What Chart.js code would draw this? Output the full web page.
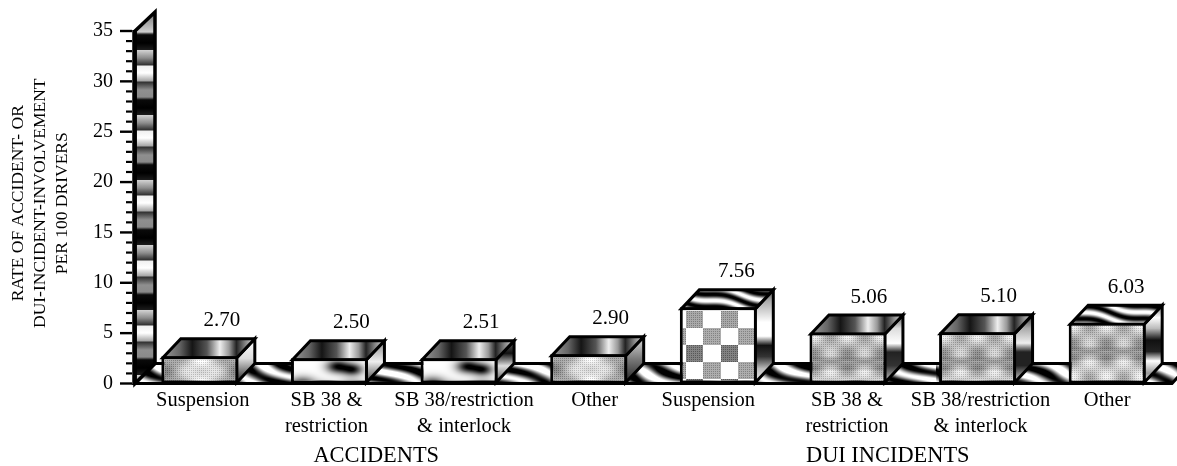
<!DOCTYPE html>
<html><head><meta charset="utf-8">
<style>html,body{margin:0;padding:0;background:#fff}canvas{display:block}</style>
<script src="https://cdn.jsdelivr.net/npm/chart.js@4"></script>
</head><body>
<canvas id="c" width="1177" height="466"></canvas>
<script>
const categories = [
  ['Suspension'], ['SB 38 &', 'restriction'], ['SB 38/restriction', '& interlock'], ['Other'],
  ['Suspension'], ['SB 38 &', 'restriction'], ['SB 38/restriction', '& interlock'], ['Other']
];
const rates = [2.70, 2.50, 2.51, 2.90, 7.56, 5.06, 5.10, 6.03];
const valueLabels = ['2.70', '2.50', '2.51', '2.90', '7.56', '5.06', '5.10', '6.03'];
const groupLabels = ['ACCIDENTS', 'DUI INCIDENTS'];
const axisTitle = ['RATE OF ACCIDENT- OR', 'DUI-INCIDENT-INVOLVEMENT', 'PER 100 DRIVERS'];

const SERIF = '"Liberation Serif","Times New Roman",serif';
const DX = 18, DY = 19;
const labelShift = [3, -3, 5, 6, -10, -1, 3, 0];
const valueShift = [22, 22, 22, 22, 18, 21, 21, 19];
const frontKinds = ['soft', 'blotch', 'blotch', 'soft', 'check', 'grid', 'grid', 'grid'];
const topKinds = ['band', 'band', 'band', 'band', 'marble', 'band', 'band', 'marble'];
const sideStops = [
  [[0,'#fff'],[.45,'#ddd'],[.8,'#666'],[1,'#222']],
  [[0,'#888'],[.5,'#eee'],[1,'#444']],
  [[0,'#666'],[.3,'#111'],[.6,'#ddd'],[1,'#555']],
  [[0,'#ddd'],[.5,'#777'],[1,'#222']],
  [[0,'#555'],[.12,'#aaa'],[.35,'#fff'],[.5,'#fff'],[.6,'#111'],[.72,'#333'],[.85,'#bbb'],[1,'#eee']],
  [[0,'#555'],[.2,'#ddd'],[.42,'#fff'],[.55,'#222'],[.75,'#333'],[1,'#ccc']],
  [[0,'#333'],[.2,'#aaa'],[.42,'#eee'],[.55,'#222'],[.75,'#222'],[1,'#ddd']],
  [[0,'#777'],[.16,'#fff'],[.3,'#bbb'],[.45,'#111'],[.6,'#222'],[.72,'#fff'],[.88,'#999'],[1,'#eee']]
];

function makeTile(w, h, fn) {
  const c = document.createElement('canvas');
  c.width = w; c.height = h;
  const x = c.getContext('2d'), img = x.createImageData(w, h);
  for (let j = 0; j < h; j++) for (let i = 0; i < w; i++) {
    const v = Math.max(0, Math.min(1, fn(i, j))) * 255, k = (j * w + i) * 4;
    img.data[k] = img.data[k + 1] = img.data[k + 2] = v; img.data[k + 3] = 255;
  }
  x.putImageData(img, 0, 0);
  return c;
}
function stipple(v, x, y) {
  const on = (x + y) % 2 === 0 && y % 2 === 0;
  return v * .82 + (on ? 0 : .18) * (v > .97 ? 1 : .95);
}
const TAU = Math.PI * 2;
const spot = (x, y, a, b, r) => Math.exp(-((x - a) * (x - a) + 3 * (y - b) * (y - b)) / (r * r));
const fronts = {
  soft: (x, y) => stipple(.74 + .2 * Math.cos(TAU * (x - 38) / 76) - .1 * Math.cos(TAU * (x - 20) / 36) * Math.cos(TAU * y / 26), x, y),
  blotch: (x, y) => 1 - .95 * spot(x, y, 45, 6, 11) - .9 * spot(x, y, 60, 9, 10) - .8 * spot(x, y, 10, 24, 13) - .45 * spot(x, y, 60, 26, 13) - .3 * spot(x, y, 32, 26, 10),
  check: (x, y) => {
    const col = Math.floor((x + 13) / 17.5), row = Math.floor((y - 2) / 17);
    if ((col + row) % 2 === 0 || row < 0) return 1;
    const g = (row % 4 === 2 || row % 4 === 0) ? .42 : .62;
    return stipple(row === 0 ? .6 : g, x, y);
  },
  grid: (x, y) => {
    const a = Math.cos(TAU * (x - 19) / 34), b = Math.cos(TAU * (y - 19) / 34);
    return stipple(.74 + .17 * a * b * (y > 26 ? -1 : 1) + .07 * Math.cos(TAU * (y + 4) / 50) - (y > 22 && y < 36 ? .12 : 0), x, y);
  }
};
const marble = (x, y) => {
  const p = x - 2.75 * y + 8 * Math.sin(TAU * (x * .6 + y) / 70);
  return .52 + .6 * Math.sin(TAU * p / 52) + .12 * Math.sin(TAU * (p * .4 + y) / 19);
};
const roofMarble = (x, y) => {
  const p = x - 5 * y + 10 * Math.sin(TAU * x / 60);
  return .5 + .55 * Math.sin(TAU * p / 62);
};

const ctxMain = document.getElementById('c').getContext('2d');
const frontPatterns = frontKinds.map(k => ctxMain.createPattern(makeTile(82, 90, fronts[k]), 'repeat'));
const marblePattern = ctxMain.createPattern(makeTile(312, 312, marble), 'repeat');
const roofPattern = ctxMain.createPattern(makeTile(310, 310, roofMarble), 'repeat');

function poly(c, pts) {
  c.beginPath();
  pts.forEach((p, i) => i ? c.lineTo(p[0], p[1]) : c.moveTo(p[0], p[1]));
  c.closePath();
}
function wallGradient(c, top, bottom) {
  const g = c.createLinearGradient(0, top, 0, bottom);
  const L = bottom - top, P = 65, start = 35 - top;
  const add = (y, col) => { if (y >= 0 && y <= L) g.addColorStop(y / L, col); };
  add(0, '#777'); add(start - 3, '#cfcfcf'); add(start - 1, '#333');
  for (let y = start; y < L; y += P) {
    add(y + .01, '#0a0a0a'); add(y + 8, '#000'); add(y + 15, '#1c1c1c');
    add(y + 15.5, '#cfcfcf'); add(y + 23, '#8c8c8c'); add(y + 30, '#303030');
    add(y + 31, '#f0f0f0'); add(y + 38, '#fff'); add(y + 46, '#a5a5a5');
    add(y + 47, '#303030'); add(y + 55, '#8f8f8f'); add(y + 62, '#8a8a8a'); add(y + 64.5, '#1a1a1a');
  }
  return g;
}

const depthBars = {
  id: 'depthBars',
  afterUpdate(chart) {
    // nudges the library's own x tick labels and y title to where the reference sets them
    const xs = chart.scales.x, ys = chart.scales.y;
    xs.getLabelItems(chart.chartArea).forEach((it, i) => { it.options.translation[0] += labelShift[i] || 0; });
    if (!ys._titleShifted) {
      const orig = ys.drawTitle;
      ys.drawTitle = function () { const c = this.ctx; c.save(); c.translate(0, -4); orig.call(this); c.restore(); };
      ys._titleShifted = true;
    }
  },
  beforeDatasetsDraw(chart) {
    const c = chart.ctx, ys = chart.scales.y, a = chart.chartArea;
    const y0 = ys.getPixelForValue(0), yT = ys.getPixelForValue(35), L = a.left;
    c.save();
    c.lineJoin = 'miter';
    c.strokeStyle = '#000';
    ys.ticks.forEach(t => {
      const y = ys.getPixelForValue(t.value), major = t.value % 5 === 0;
      c.lineWidth = major ? 2.4 : 2.2;
      c.beginPath(); c.moveTo(major ? L - 15 : L - 9, y); c.lineTo(L - 3, y); c.stroke();
    });
    const floor = [[L, y0], [a.right, y0], [a.right + DX, y0 - DY - 1], [L + DX + 2, y0 - DY - 1]];
    poly(c, floor); c.fillStyle = marblePattern; c.fill();
    c.lineWidth = 3; c.strokeStyle = '#000'; c.stroke();
    const wall = [[L, yT], [L + DX + 2, yT - DY], [L + DX + 2, y0 - DY - 1], [L, y0]];
    poly(c, wall); c.fillStyle = wallGradient(c, yT - DY, y0); c.fill();
    c.lineWidth = 3.5; c.stroke();
    c.lineWidth = 4.5; c.beginPath(); c.moveTo(L - .5, yT - 1); c.lineTo(L - .5, y0 + 1); c.stroke();
    chart.getDatasetMeta(0).data.forEach((bar, i) => {
      const half = bar.width / 2, xl = bar.x - half + 1.5, xr = bar.x + half - 1.5, top = bar.y + 1.5, bot = bar.base - 1;
      const side = [[xr, top], [xr + DX, top - DY], [xr + DX, bot - DY], [xr, bot]];
      const sg = c.createLinearGradient(0, top - DY, 0, bot);
      sideStops[i].forEach(s => sg.addColorStop(s[0], s[1]));
      poly(c, side); c.fillStyle = sg; c.fill(); c.lineWidth = 3; c.stroke();
      const roof = [[xl, top], [xl + DX, top - DY], [xr + DX, top - DY], [xr, top]];
      poly(c, roof);
      if (topKinds[i] === 'marble') {
        c.fillStyle = roofPattern;
      } else {
        const tg = c.createLinearGradient(xl, 0, xr + DX, 0);
        [[0,'#999'],[.18,'#666'],[.32,'#151515'],[.48,'#555'],[.62,'#eee'],[.72,'#999'],[.8,'#222'],[.9,'#888'],[1,'#ddd']].forEach(s => tg.addColorStop(s[0], s[1]));
        c.fillStyle = tg;
      }
      c.fill(); c.stroke();
      frontPatterns[i].setTransform(new DOMMatrix().translate(Math.round(xl), Math.round(top)));
    });
    c.restore();
  },
  afterDatasetsDraw(chart) {
    const c = chart.ctx, meta = chart.getDatasetMeta(0).data, a = chart.chartArea;
    c.save();
    c.fillStyle = '#000';
    c.textAlign = 'center'; c.textBaseline = 'alphabetic';
    c.font = '21px ' + SERIF;
    meta.forEach((bar, i) => c.fillText(valueLabels[i], bar.x + valueShift[i], bar.y - 30));
    c.font = '22.4px ' + SERIF;
    const mid = (p, q) => (meta[p].x + meta[q].x) / 2;
    c.fillText(groupLabels[0], mid(0, 3) - 18, a.bottom + 78);
    c.fillText(groupLabels[1], mid(4, 7) - 25, a.bottom + 78);
    c.restore();
  }
};

new Chart(document.getElementById('c'), {
  type: 'bar',
  data: {
    labels: categories,
    datasets: [{
      data: rates,
      backgroundColor: frontPatterns,
      borderColor: '#000',
      borderWidth: 3,
      borderSkipped: false,
      categoryPercentage: 1,
      barPercentage: 0.594
    }]
  },
  options: {
    responsive: false,
    animation: false,
    devicePixelRatio: 1,
    layout: { padding: { top: 31, right: 5, left: 0, bottom: 0 } },
    plugins: { legend: { display: false }, tooltip: { enabled: false }, title: { display: false } },
    scales: {
      x: {
        grid: { display: false, drawTicks: false },
        border: { display: false },
        afterFit(s) { s.height = 82.5; },
        ticks: { color: '#000', font: { family: SERIF, size: 20.5, lineHeight: 1.27 }, padding: 4, maxRotation: 0, autoSkip: false }
      },
      y: {
        min: 0, max: 35,
        grid: { display: false, drawTicks: false },
        border: { display: false },
        afterFit(s) { s.width = 135; s.paddingTop = 0; s.paddingBottom = 0; },
        ticks: {
          stepSize: 1, autoSkip: false, color: '#000', padding: 22,
          font: { family: SERIF, size: 20 },
          callback: v => (v % 5 === 0 ? String(v) : '')
        },
        title: {
          display: true, text: axisTitle, color: '#000',
          font: { family: SERIF, size: 17.5, lineHeight: 1.24 },
          padding: { top: 8, bottom: 0 }
        }
      }
    }
  },
  plugins: [depthBars]
});
</script>
</body></html>
